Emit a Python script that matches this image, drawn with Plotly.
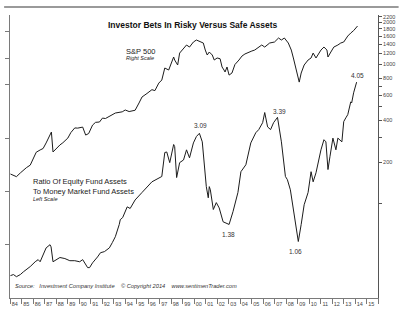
import plotly.graph_objects as go

# S&P 500 index (right, log scale)
spx_year = [1984.04, 1984.30, 1984.56, 1984.90, 1985.16, 1985.42, 1985.76, 1986.02, 1986.28, 1986.62,
            1986.88, 1987.14, 1987.48, 1987.60, 1987.74, 1988.00, 1988.34, 1988.60, 1989.03, 1989.29,
            1989.63, 1989.89, 1990.32, 1990.58, 1990.84, 1991.18, 1991.44, 1991.78, 1992.04, 1992.30,
            1992.64, 1993.16, 1993.76, 1994.02, 1994.36, 1994.88, 1995.22, 1995.48, 1995.91, 1996.34,
            1996.60, 1996.94, 1997.20, 1997.46, 1997.80, 1998.06, 1998.23, 1998.32, 1998.58, 1998.75,
            1999.09, 1999.35, 1999.61, 1999.95, 2000.21, 2000.47, 2000.81, 2000.98, 2001.15, 2001.33,
            2001.59, 2001.76, 2002.01, 2002.27, 2002.44, 2002.61, 2002.70, 2002.87, 2003.05, 2003.30,
            2003.56, 2003.91, 2004.17, 2004.43, 2004.77, 2005.03, 2005.28, 2005.63, 2005.89, 2006.15,
            2006.58, 2007.00, 2007.35, 2007.60, 2007.86, 2008.20, 2008.46, 2008.64, 2008.81, 2008.98,
            2009.15, 2009.32, 2009.58, 2009.92, 2010.18, 2010.36, 2010.61, 2011.04, 2011.30, 2011.56,
            2011.65, 2011.90, 2012.16, 2012.51, 2012.76, 2013.02, 2013.37, 2013.63, 2013.88, 2014.22]
spx_value = [164, 160, 157, 167, 175, 182, 190, 210, 235, 244,
             250, 274, 310, 328, 236, 250, 265, 275, 297, 325,
             351, 350, 356, 312, 320, 368, 385, 387, 413, 410,
             425, 449, 458, 472, 460, 470, 530, 585, 620, 660,
             650, 736, 774, 944, 913, 1042, 1132, 1077, 992, 1208,
             1312, 1380, 1334, 1450, 1498, 1474, 1426, 1270, 1170, 1229,
             1170, 1077, 1114, 1100, 960, 913, 884, 960, 840, 869,
             1000, 1077, 1150, 1190, 1230, 1250, 1270, 1334, 1380, 1334,
             1426, 1450, 1549, 1498, 1549, 1426, 1270, 1114, 960, 869,
             748, 869, 992, 1077, 1114, 1208, 1114, 1270, 1334, 1270,
             1132, 1229, 1334, 1380, 1426, 1450, 1600, 1682, 1750, 1888]

# Equity fund assets / money market fund assets (left, linear scale)
ratio_year = [1984.04, 1984.30, 1984.56, 1984.90, 1985.16, 1985.42, 1985.76, 1986.19, 1986.45, 1986.62,
              1986.88, 1987.14, 1987.48, 1987.57, 1987.74, 1988.00, 1988.34, 1988.77, 1989.20, 1989.63,
              1990.06, 1990.32, 1990.58, 1990.75, 1990.92, 1991.18, 1991.61, 1991.87, 1992.21, 1992.64,
              1992.90, 1993.16, 1993.50, 1993.59, 1993.80, 1994.19, 1994.45, 1994.88, 1995.48, 1996.34,
              1997.20, 1997.46, 1997.63, 1997.89, 1998.23, 1998.32, 1998.49, 1998.75, 1999.09, 1999.35,
              1999.61, 1999.95, 2000.21, 2000.47, 2000.72, 2000.90, 2001.07, 2001.24, 2001.33, 2001.42,
              2001.68, 2001.94, 2002.19, 2002.53, 2002.79, 2003.05, 2003.39, 2003.82, 2004.08, 2004.51,
              2004.94, 2005.37, 2005.63, 2005.97, 2006.15, 2006.40, 2006.66, 2006.92, 2007.26, 2007.60,
              2007.95, 2008.12, 2008.38, 2008.64, 2009.07, 2009.32, 2009.58, 2009.92, 2010.18, 2010.36,
              2010.61, 2011.04, 2011.30, 2011.47, 2011.65, 2011.82, 2012.08, 2012.34, 2012.51, 2012.86,
              2013.02, 2013.20, 2013.37, 2013.63, 2013.71, 2013.88, 2014.14]
ratio_value = [0.42, 0.44, 0.40, 0.44, 0.49, 0.53, 0.59, 0.68, 0.72, 0.68,
               0.81, 0.94, 1.00, 0.96, 0.68, 0.72, 0.76, 0.74, 0.70, 0.70,
               0.68, 0.72, 0.62, 0.57, 0.57, 0.66, 0.77, 0.85, 0.87, 0.94,
               1.04, 1.15, 1.38, 1.47, 1.51, 1.71, 1.68, 1.84, 1.98, 2.18,
               2.28, 2.73, 2.74, 2.54, 2.88, 2.84, 2.26, 2.54, 2.59, 2.78,
               2.63, 2.91, 3.03, 3.09, 2.93, 2.50, 2.09, 1.88, 2.09, 2.03,
               1.66, 1.79, 1.69, 1.43, 1.41, 1.38, 1.62, 1.98, 2.37, 2.50,
               2.91, 3.10, 3.16, 3.29, 3.48, 3.21, 3.16, 3.29, 3.39, 2.93,
               2.28, 2.22, 2.03, 1.66, 1.06, 1.38, 1.75, 1.98, 2.37, 2.18,
               2.35, 2.78, 2.97, 2.93, 2.41, 2.65, 3.00, 2.78, 3.00, 2.93,
               3.31, 3.38, 3.44, 3.68, 3.66, 3.85, 4.05]

# Marked turning points of the ratio: (index into ratio arrays, x shift, y shift)
callouts = [(53, 1, 8), (65, -1, -10), (78, 2, 6), (84, -3, -10), (106, 1, 7)]

years = list(range(1984, 2016))
year_labels = [f"{y % 100:02d}" for y in years]

spx_ticks = [100, 200, 300, 400, 500, 600, 700, 800, 1000, 1200, 1400, 1600, 1800, 2000, 2200]
spx_tick_text = ["", "200", "", "400", "", "600", "", "800", "1000", "1200", "1400", "1600",
                 "1800", "2000", "2200"]

FONT = "Liberation Sans, Arial, sans-serif"
LINE = "#1c1c1c"
AXIS = "#7a7a7a"

fig = go.Figure()
fig.add_trace(go.Scatter(x=spx_year, y=spx_value, mode="lines", yaxis="y2",
                         line=dict(color=LINE, width=1), showlegend=False, hoverinfo="skip"))
fig.add_trace(go.Scatter(x=ratio_year, y=ratio_value, mode="lines", yaxis="y",
                         line=dict(color=LINE, width=1), showlegend=False, hoverinfo="skip"))

annotations = [
    dict(text="<b>Investor Bets In Risky Versus Safe Assets</b>", x=0.497, y=0.988,
         xref="paper", yref="paper", showarrow=False, font=dict(size=8.5, color="#111")),
    dict(text="S&P 500", x=0.309, y=0.894, xref="paper", yref="paper", xanchor="left",
         showarrow=False, font=dict(size=7.5, color="#222")),
    dict(text="<i>Right Scale</i>", x=0.309, y=0.867, xref="paper", yref="paper", xanchor="left",
         showarrow=False, font=dict(size=5.5, color="#222")),
    dict(text="Ratio Of Equity Fund Assets", x=0.056, y=0.41, xref="paper", yref="paper",
         xanchor="left", showarrow=False, font=dict(size=7.5, color="#222")),
    dict(text="To Money Market Fund Assets", x=0.056, y=0.378, xref="paper", yref="paper",
         xanchor="left", showarrow=False, font=dict(size=7.5, color="#222")),
    dict(text="<i>Left Scale</i>", x=0.056, y=0.35, xref="paper", yref="paper", xanchor="left",
         showarrow=False, font=dict(size=5.5, color="#222")),
    dict(text="<i>Source:   Investment Company Institute    © Copyright 2014    www.sentimenTrader.com</i>",
         x=0.008, y=0.025, xref="paper", yref="paper", xanchor="left", showarrow=False,
         font=dict(size=5.7, color="#333")),
]
for i, dx, dy in callouts:
    annotations.append(dict(text=f"{ratio_value[i]:.2f}", x=ratio_year[i], y=ratio_value[i],
                            xref="x", yref="y", showarrow=False, xshift=dx, yshift=dy,
                            font=dict(size=6.5, color="#333")))

fig.update_layout(
    width=412, height=324,
    margin=dict(l=6, r=34, t=15, b=26),
    paper_bgcolor="white", plot_bgcolor="white",
    font=dict(family=FONT, color="#333"),
    xaxis=dict(range=[1984, 2016], showgrid=False, zeroline=False,
               showline=True, linecolor=AXIS, linewidth=1,
               tickmode="array", tickvals=[y + 0.42 for y in years], ticktext=year_labels,
               ticks="", tickfont=dict(size=5.5, color="#444"),
               minor=dict(tickmode="linear", tick0=1984, dtick=1, ticks="outside",
                          ticklen=5, tickcolor=AXIS, showgrid=False)),
    yaxis=dict(range=[0, 5.31], showgrid=False, zeroline=False,
               showline=True, linecolor=AXIS, linewidth=1,
               tickmode="array", tickvals=[1, 2, 3, 4, 4.5, 5], showticklabels=False,
               ticks="outside", ticklen=4, tickcolor=AXIS),
    yaxis2=dict(type="log", range=[1.326, 3.355], overlaying="y", side="right",
                showgrid=False, zeroline=False, showline=True, linecolor="#555", linewidth=1,
                tickmode="array", tickvals=spx_ticks, ticktext=spx_tick_text,
                ticks="outside", ticklen=3, tickcolor="#555",
                tickfont=dict(size=5.5, color="#444")),
    annotations=annotations,
    shapes=[dict(type="line", xref="paper", yref="paper", x0=-0.016, x1=1.056, y0=1.028, y1=1.028,
                 line=dict(color="#9a9a9a", width=2))],
)

fig.write_html("out.html")
